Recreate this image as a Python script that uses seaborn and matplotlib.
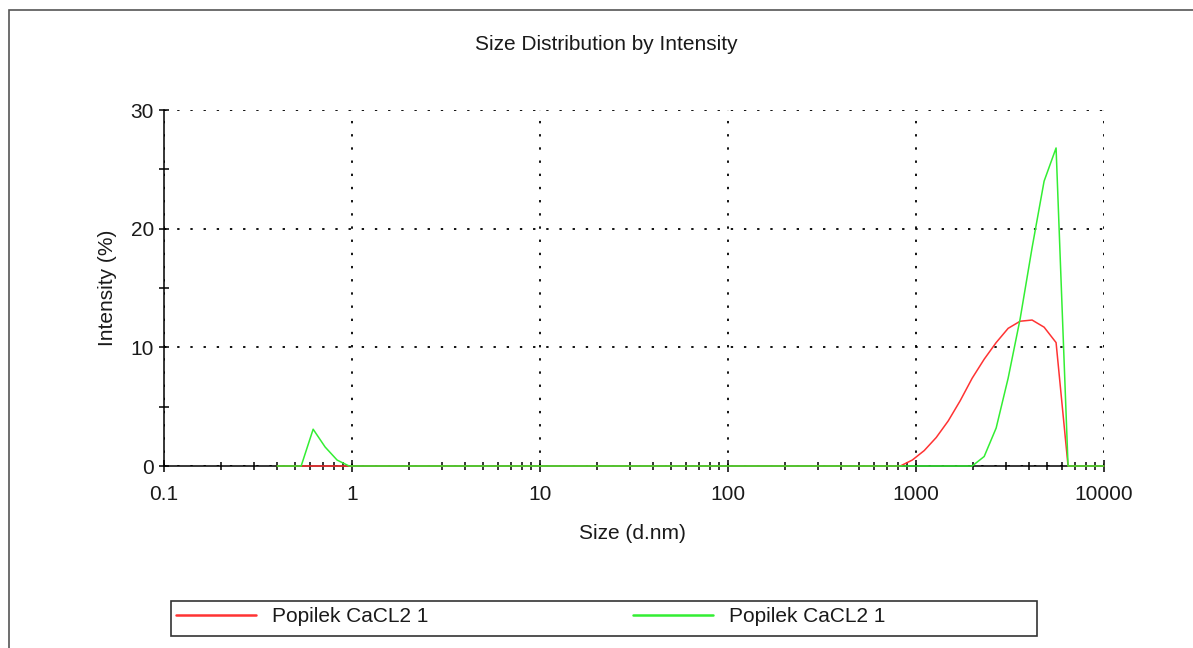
import matplotlib
matplotlib.use("Agg")
import matplotlib.pyplot as plt
import numpy as np
import pandas as pd
import seaborn as sns
from matplotlib.ticker import LogLocator, NullFormatter, FixedLocator
from matplotlib.patches import Rectangle

# Size bins (d.nm)
sizes = [0.4, 0.4632, 0.5365, 0.6213, 0.7195, 0.8332, 0.9649,
         1.117, 1.294, 1.499, 1.736, 2.01, 2.328, 2.696, 3.122, 3.615, 4.187, 4.849, 5.615, 6.503, 7.531, 8.721,
         10.1, 11.7, 13.54, 15.69, 18.17, 21.04, 24.36, 28.21, 32.67, 37.84, 43.82, 50.75, 58.77, 68.06, 78.82, 91.28,
         105.7, 122.4, 141.8, 164.2, 190.1, 220.2, 255.0, 295.3, 342.0, 396.1, 458.7, 531.2, 615.1, 712.4, 825.0, 955.4,
         1106, 1281, 1484, 1718, 1990, 2305, 2669, 3091, 3580, 4145, 4801, 5560, 6439, 7456, 8635, 10000]

red_intensity = [0, 0, 0, 0, 0, 0, 0,
                 0, 0, 0, 0, 0, 0, 0, 0, 0, 0, 0, 0, 0, 0, 0,
                 0, 0, 0, 0, 0, 0, 0, 0, 0, 0, 0, 0, 0, 0, 0, 0,
                 0, 0, 0, 0, 0, 0, 0, 0, 0, 0, 0, 0, 0, 0, 0, 0.5,
                 1.3, 2.4, 3.8, 5.5, 7.4, 9.0, 10.4, 11.6, 12.2, 12.3, 11.7, 10.4, 0, 0, 0, 0]

green_intensity = [0, 0, 0, 3.1, 1.6, 0.5, 0,
                   0, 0, 0, 0, 0, 0, 0, 0, 0, 0, 0, 0, 0, 0, 0,
                   0, 0, 0, 0, 0, 0, 0, 0, 0, 0, 0, 0, 0, 0, 0, 0,
                   0, 0, 0, 0, 0, 0, 0, 0, 0, 0, 0, 0, 0, 0, 0, 0,
                   0, 0, 0, 0, 0, 0.8, 3.2, 7.4, 12.4, 18.4, 24.0, 26.8, 0, 0, 0, 0]

series_labels = ["Popilek CaCL2 1", "Popilek CaCL2 1"]
x_ticks = [0.1, 1, 10, 100, 1000, 10000]
x_tick_labels = ["0.1", "1", "10", "100", "1000", "10000"]
y_ticks = [0, 10, 20, 30]
y_tick_labels = ["0", "10", "20", "30"]
y_minor_ticks = [5, 15, 25]

sns.set_theme(style="white")
plt.rcParams['font.family'] = ['Liberation Sans', 'DejaVu Sans']

W, H = 1193, 648
fig = plt.figure(figsize=(W / 100, H / 100), dpi=100)
fig.patch.set_facecolor("white")
ax = fig.add_axes([164 / W, 1 - 466 / H, 940 / W, 356 / H])
ax.set_facecolor("white")

df_red = pd.DataFrame({"size": sizes, "intensity": red_intensity})
df_green = pd.DataFrame({"size": sizes, "intensity": green_intensity})

sns.lineplot(data=df_red, x="size", y="intensity", color="#ff3333", lw=1.1,
             ax=ax, label=series_labels[0], zorder=3, legend=False, clip_on=False)
sns.lineplot(data=df_green, x="size", y="intensity", color="#33ee33", lw=1.1,
             ax=ax, label=series_labels[1], zorder=4, legend=False, clip_on=False)

ax.set_xscale("log")
ax.set_xlim(0.1, 10000)
ax.set_ylim(0, 30)

ax.xaxis.set_major_locator(FixedLocator(x_ticks))
ax.set_xticklabels(x_tick_labels)
ax.xaxis.set_minor_locator(LogLocator(base=10, subs=range(2, 10)))
ax.xaxis.set_minor_formatter(NullFormatter())
ax.yaxis.set_major_locator(FixedLocator(y_ticks))
ax.set_yticklabels(y_tick_labels)
ax.yaxis.set_minor_locator(FixedLocator(y_minor_ticks))

ax.grid(True, which="major", color="black", linestyle=(0, (1.3, 6)), lw=1.3)

for s in ["top", "right"]:
    ax.spines[s].set_visible(False)
for s in ["left", "bottom"]:
    ax.spines[s].set_color("black")
    ax.spines[s].set_linewidth(1.1)

ax.tick_params(axis="x", which="major", direction="inout", length=9, width=1.1,
               color="black", labelsize=15, labelcolor="#1a1a1a", pad=9)
ax.tick_params(axis="x", which="minor", direction="inout", length=5.5, width=1.1, color="black")
ax.tick_params(axis="y", which="both", direction="inout", length=7.2, width=1.1,
               color="black", labelsize=15, labelcolor="#1a1a1a", pad=3.6)
ax.tick_params(bottom=True, left=True, which="both")

ax.set_xlabel("Size (d.nm)", fontsize=15, color="#1a1a1a")
ax.set_ylabel("Intensity (%)", fontsize=15, color="#1a1a1a")
ax.xaxis.set_label_coords((632 - 164) / 940, (466 - 524) / 356)
ax.yaxis.set_label_coords((117 - 164) / 940, 0.5)

fig.text(606 / W, 1 - 45 / H, "Size Distribution by Intensity", ha="center", va="center",
         fontsize=15, color="#1a1a1a")

handles, labels = ax.get_legend_handles_labels()
leg = fig.legend(handles, series_labels, loc="center left",
                 bbox_to_anchor=(176 / W, 1 - 617 / H), ncol=2, frameon=False,
                 fontsize=15, handlelength=3.85, handletextpad=0.77, columnspacing=9.8,
                 borderaxespad=0, borderpad=0, labelcolor="#1a1a1a")
for l in leg.get_lines():
    l.set_linewidth(1.8)

fig.add_artist(Rectangle((171 / W, 1 - 636 / H), (1037 - 171) / W, (636 - 601) / H,
                         transform=fig.transFigure, fill=False, ec="#333333", lw=1.2))
fig.add_artist(Rectangle((9 / W, -0.5), 2, 1.5 - 10 / H,
                         transform=fig.transFigure, fill=False, ec="#555555", lw=1.2))

fig.savefig("out.png", dpi=100)
